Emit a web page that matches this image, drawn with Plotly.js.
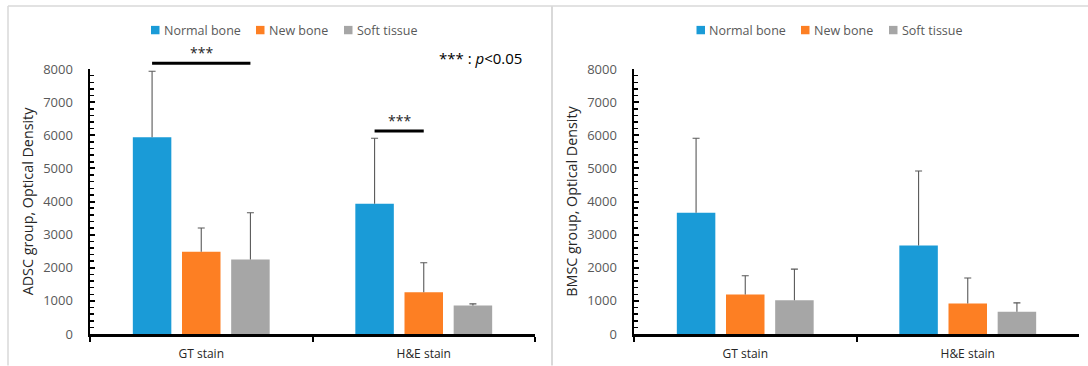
<!DOCTYPE html>
<html>
<head>
<meta charset="utf-8">
<script src="https://cdn.plot.ly/plotly-3.0.1.min.js"></script>
<style>html,body{margin:0;padding:0;background:#fff;}#chart{width:1088px;height:366px;}</style>
</head>
<body>
<div id="chart"></div>
<script>
// ---- data ----
const categories = ["GT stain", "H&E stain"];
const seriesNames = ["Normal bone", "New bone", "Soft tissue"];

const adscNormal = [5940, 3930];
const adscNew    = [2480, 1260];
const adscSoft   = [2250, 860];
const adscNormalErr = [1990, 1980];
const adscNewErr    = [720, 890];
const adscSoftErr   = [1410, 50];

const bmscNormal = [3660, 2670];
const bmscNew    = [1190, 920];
const bmscSoft   = [1020, 670];
const bmscNormalErr = [2250, 2250];
const bmscNewErr    = [570, 770];
const bmscSoftErr   = [940, 270];

const sigLabel = "***";
const pNote = "*** : <i>p</i><0.05";

// ---- styling ----
const colors = ["#1a9bd7", "#fd7f23", "#a6a6a6"];
const W = 1088, H = 366;
const plotTop = 69, plotBottom = 334.5;
const plotH = plotBottom - plotTop;
const py = p => (plotBottom - p) / plotH;
const px = p => p / W;
const BARGAP = 0.337;
const slot = (1 - BARGAP) / 3;
const groups = ["g0", "g1", "g2"];

function mkTrace(name, y, err, i, xa, ya) {
  return {
    type: "bar", name: name, x: categories, y: y,
    xaxis: xa, yaxis: ya, offsetgroup: groups[i], showlegend: false,
    marker: {color: colors[i], line: {width: 0}},
    error_y: {type: "data", array: err, arrayminus: err.map(() => 0), symmetric: false,
              color: "#595959", thickness: 1.1, width: 0},
    hoverinfo: "skip"
  };
}
// invisible companion bars that only carry the error-bar caps at the top
function mkCap(y, err, i, xa, ya) {
  return {
    type: "bar", x: categories, y: y.map((v, k) => v + err[k]),
    xaxis: xa, yaxis: ya, offsetgroup: groups[i], showlegend: false,
    marker: {color: "rgba(0,0,0,0)", line: {width: 0}},
    error_y: {type: "data", array: err.map(() => 0), color: "#595959", thickness: 1.1, width: 3.5},
    hoverinfo: "skip"
  };
}

const adscY = [adscNormal, adscNew, adscSoft];
const adscE = [adscNormalErr, adscNewErr, adscSoftErr];
const bmscY = [bmscNormal, bmscNew, bmscSoft];
const bmscE = [bmscNormalErr, bmscNewErr, bmscSoftErr];

const traces = [];
seriesNames.forEach((n, i) => traces.push(mkTrace(n, adscY[i], adscE[i], i, "x", "y")));
seriesNames.forEach((n, i) => traces.push(mkCap(adscY[i], adscE[i], i, "x", "y")));
seriesNames.forEach((n, i) => traces.push(mkTrace(n, bmscY[i], bmscE[i], i, "x2", "y2")));
seriesNames.forEach((n, i) => traces.push(mkCap(bmscY[i], bmscE[i], i, "x2", "y2")));

const FONT = "Open Sans, sans-serif";
const tickFont = {family: FONT, size: 13, color: "#595959"};
const catFont = {family: FONT, size: 12, color: "#262626"};

function xAxis(domain, anchor) {
  return {
    domain: domain, anchor: anchor, type: "category", range: [-0.5, 1.5],
    showline: true, linecolor: "#000", linewidth: 2.5,
    ticks: "outside", tickson: "boundaries", ticklen: 5, tickwidth: 2, tickcolor: "#000",
    tickfont: catFont, ticklabelstandoff: 7, showgrid: false, zeroline: false, fixedrange: true
  };
}
function yAxis(anchor, title) {
  return {
    anchor: anchor, range: [0, 8000], dtick: 1000, tick0: 0,
    showline: true, linecolor: "#000", linewidth: 2.5,
    ticks: "inside", ticklen: 5, tickwidth: 2, tickcolor: "#000",
    minor: {dtick: 200, ticks: "inside", ticklen: 3.5, tickwidth: 1.5, tickcolor: "#000", showgrid: false},
    tickfont: tickFont, ticklabelstandoff: 12,
    showgrid: false, zeroline: false, fixedrange: true,
    title: {text: title, font: {family: FONT, size: 14.3, color: "#262626"}, standoff: 6}
  };
}

const borderColor = "#d9d9d9";
const shapes = [
  {type: "line", xref: "paper", yref: "paper", x0: px(8), x1: 1, y0: py(6), y1: py(6), line: {color: borderColor, width: 1.5}},
  {type: "line", xref: "paper", yref: "paper", x0: px(8), x1: px(8), y0: py(6), y1: py(366), line: {color: borderColor, width: 1.5}},
  {type: "line", xref: "paper", yref: "paper", x0: px(552), x1: px(552), y0: py(6), y1: py(366), line: {color: borderColor, width: 2}},
  // significance bars (left panel)
  {type: "line", xref: "x", yref: "paper", x0: 0 - slot, x1: 0 + slot, y0: py(63.3), y1: py(63.3), line: {color: "#000", width: 3}},
  {type: "line", xref: "x", yref: "paper", x0: 1 - slot, x1: 1, y0: py(131), y1: py(131), line: {color: "#000", width: 3}}
];

const annFont = {family: FONT, size: 14, color: "#262626"};
const annotations = [
  {xref: "x", yref: "paper", x: 0, y: py(63.3), text: sigLabel, showarrow: false, yanchor: "bottom", yshift: -1, font: annFont},
  {xref: "x", yref: "paper", x: 1 - slot / 2, y: py(131), text: sigLabel, showarrow: false, yanchor: "bottom", yshift: -1, font: annFont},
  {xref: "paper", yref: "paper", x: px(524), y: py(58), text: pNote, showarrow: false, xanchor: "right", yanchor: "middle",
   font: {family: FONT, size: 15, color: "#000"}}
];

// custom legends (one per panel)
const legendFont = {family: FONT, size: 12.5, color: "#595959"};
const legendSquares = [[151, 256, 344], [696.5, 801, 889]];
legendSquares.forEach(row => {
  row.forEach((x0, i) => {
    shapes.push({type: "rect", xref: "paper", yref: "paper", x0: px(x0), x1: px(x0 + 8.5),
                 y0: py(34.2), y1: py(25.8), fillcolor: colors[i], line: {width: 0}});
    annotations.push({xref: "paper", yref: "paper", x: px(x0 + 11.5), y: py(30), text: seriesNames[i],
                      showarrow: false, xanchor: "left", yanchor: "middle", font: legendFont, borderpad: 0});
  });
});

const layout = {
  width: W, height: H,
  margin: {l: 0, r: 0, t: plotTop, b: H - plotBottom, pad: 0},
  paper_bgcolor: "#fff", plot_bgcolor: "#fff",
  barmode: "group", bargap: BARGAP, bargroupgap: 0.217,
  showlegend: false,
  xaxis: xAxis([px(90), px(535)], "y"),
  yaxis: yAxis("x", "ADSC group, Optical Density"),
  xaxis2: xAxis([px(634), px(1079)], "y2"),
  yaxis2: yAxis("x2", "BMSC group, Optical Density"),
  shapes: shapes,
  annotations: annotations
};

Plotly.newPlot("chart", traces, layout, {displayModeBar: false, staticPlot: true});
</script>
</body>
</html>
